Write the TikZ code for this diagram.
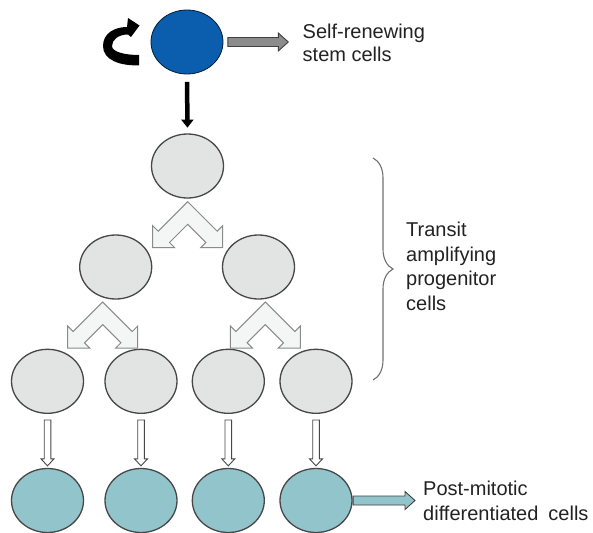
\documentclass[tikz,border=0pt]{standalone}
\usepackage{fontspec}
\setmainfont{Liberation Sans}
\usetikzlibrary{calc,decorations.pathreplacing,arrows.meta,shapes.geometric}
\definecolor{stemblue}{HTML}{0B5DAE}
\definecolor{cellgray}{HTML}{E2E3E3}
\definecolor{cellteal}{HTML}{92C4CB}
\definecolor{edgegray}{HTML}{474747}
\definecolor{vfill}{HTML}{F4F5F5}
\definecolor{vedge}{HTML}{8A8A8A}
\definecolor{arrgray}{HTML}{8C8C8C}
\definecolor{txtcol}{HTML}{222222}
\definecolor{bracecol}{HTML}{707070}
% block arrow: #1 style, #2 start, #3 end, #4 shorten start, #5 shorten end,
% #6 shaft half width, #7 head half width, #8 head length
\newcommand{\blockarr}[8]{%
  \coordinate (ba-a) at ($(#2)!#4!(#3)$);
  \coordinate (ba-b) at ($(#3)!#5!(#2)$);
  \coordinate (ba-h) at ($(ba-b)!#8!(ba-a)$);
  \draw[#1] ($(ba-a)!#6!90:(ba-b)$) -- ($(ba-h)!#6!90:(ba-b)$) -- ($(ba-h)!#7!90:(ba-b)$)
    -- (ba-b) -- ($(ba-h)!#7!-90:(ba-b)$) -- ($(ba-h)!#6!-90:(ba-b)$)
    -- ($(ba-a)!#6!-90:(ba-b)$) -- cycle;}
\tikzset{
  cell/.style={ellipse, minimum width=72pt, minimum height=64pt, draw=edgegray, line width=1.3pt, inner sep=0pt},
  stemcell/.style={cell, fill=stemblue, draw=black!70!stemblue, line width=0.8pt},
  progcell/.style={cell, fill=cellgray},
  diffcell/.style={cell, fill=cellteal},
  txtlabel/.style={text=txtcol, align=left, anchor=north west, inner sep=0pt},
  splitstyle/.style={fill=vfill, draw=vedge, line width=1pt, line join=miter},
  hollowarr/.style={fill=white, draw=edgegray, line width=0.9pt},
  grayarr/.style={fill=arrgray, draw=black!75, line width=0.9pt},
  tealarr/.style={fill=cellteal, draw=black!75, line width=0.9pt},
  splitarrow/.pic={\draw[splitstyle] (0,0) -- (-29.5,29.5) -- (-35,24) -- (-35,46) -- (-13,46)
     -- (-18.2,40.8) -- (0,22.6) -- (18.2,40.8) -- (13,46) -- (35,46) -- (35,24)
     -- (29.5,29.5) -- cycle;}
}
\begin{document}
\begin{tikzpicture}[x=1pt,y=-1pt]
\useasboundingbox (0,0) rectangle (593,532);
% cells
\node[stemcell] (stem) at (187,42) {};
\node[progcell] (g0) at (187.5,166) {};
\node[progcell] (g1) at (115.7,267) {};
\node[progcell] (g2) at (258.5,267) {};
\node[progcell] (g3) at (47.5,381.3) {};
\node[progcell] (g4) at (141,381.3) {};
\node[progcell] (g5) at (228.3,381.3) {};
\node[progcell] (g6) at (316,381.3) {};
\node[diffcell] (t1) at (47.5,500.5) {};
\node[diffcell] (t2) at (141,500.5) {};
\node[diffcell] (t3) at (228.3,500.5) {};
\node[diffcell] (t4) at (316,500.5) {};
% texts
\node[txtlabel, font=\fontsize{20}{23}\selectfont] (selftxt) at (302.5,23.7) {Self-renewing\\stem cells};
\node[txtlabel, font=\fontsize{20}{24.8}\selectfont] (transtxt) at (406,221.7) {Transit\\amplifying\\progenitor\\cells};
\node[txtlabel, font=\fontsize{20}{25}\selectfont] (posttxt) at (423,481) {Post-mitotic\\differentiated\hspace{0.5em}cells};
\coordinate (selfend) at (288.3,42);
\coordinate (postend) at (415,500.5);
% self-renewal curved arrow
\fill[black] (139,65.3) .. controls (120,66) and (103,60) .. (103,46)
  .. controls (103,33) and (115,27) .. (127,27) -- (128,18) -- (139.5,25.5) -- (131,37) -- (128,34.5)
  .. controls (118,34.5) and (112,40) .. (112,46)
  .. controls (112,52) and (125,55) .. (139,55) -- cycle;
% stem -> progenitor
\draw[line width=4.5pt, -{Triangle[width=12pt,length=8pt]}, shorten <=7.5pt, shorten >=5.7pt] (stem.south) -- (g0.north);
% right arrows
\blockarr{grayarr}{stem.east}{selfend}{4.5pt}{0pt}{4.5pt}{9pt}{10pt}
\blockarr{tealarr}{t4.east}{postend}{0.5pt}{0pt}{4.5pt}{9pt}{10pt}
% split arrows
\pic at (187.7,201.7) {splitarrow};
\pic at (102.7,302) {splitarrow};
\pic at (265.3,302) {splitarrow};
% differentiation arrows
\blockarr{hollowarr}{g3.south}{t1.north}{6pt}{2pt}{3.3pt}{6.5pt}{7pt}
\blockarr{hollowarr}{g4.south}{t2.north}{6pt}{2pt}{3.3pt}{6.5pt}{7pt}
\blockarr{hollowarr}{g5.south}{t3.north}{6pt}{2pt}{3.3pt}{6.5pt}{7pt}
\blockarr{hollowarr}{g6.south}{t4.north}{6pt}{2pt}{3.3pt}{6.5pt}{7pt}
% brace
\draw[bracecol, line width=1.1pt, decorate, decoration={brace, amplitude=20pt}] (373,158) -- (373,380);
\end{tikzpicture}
\end{document}
